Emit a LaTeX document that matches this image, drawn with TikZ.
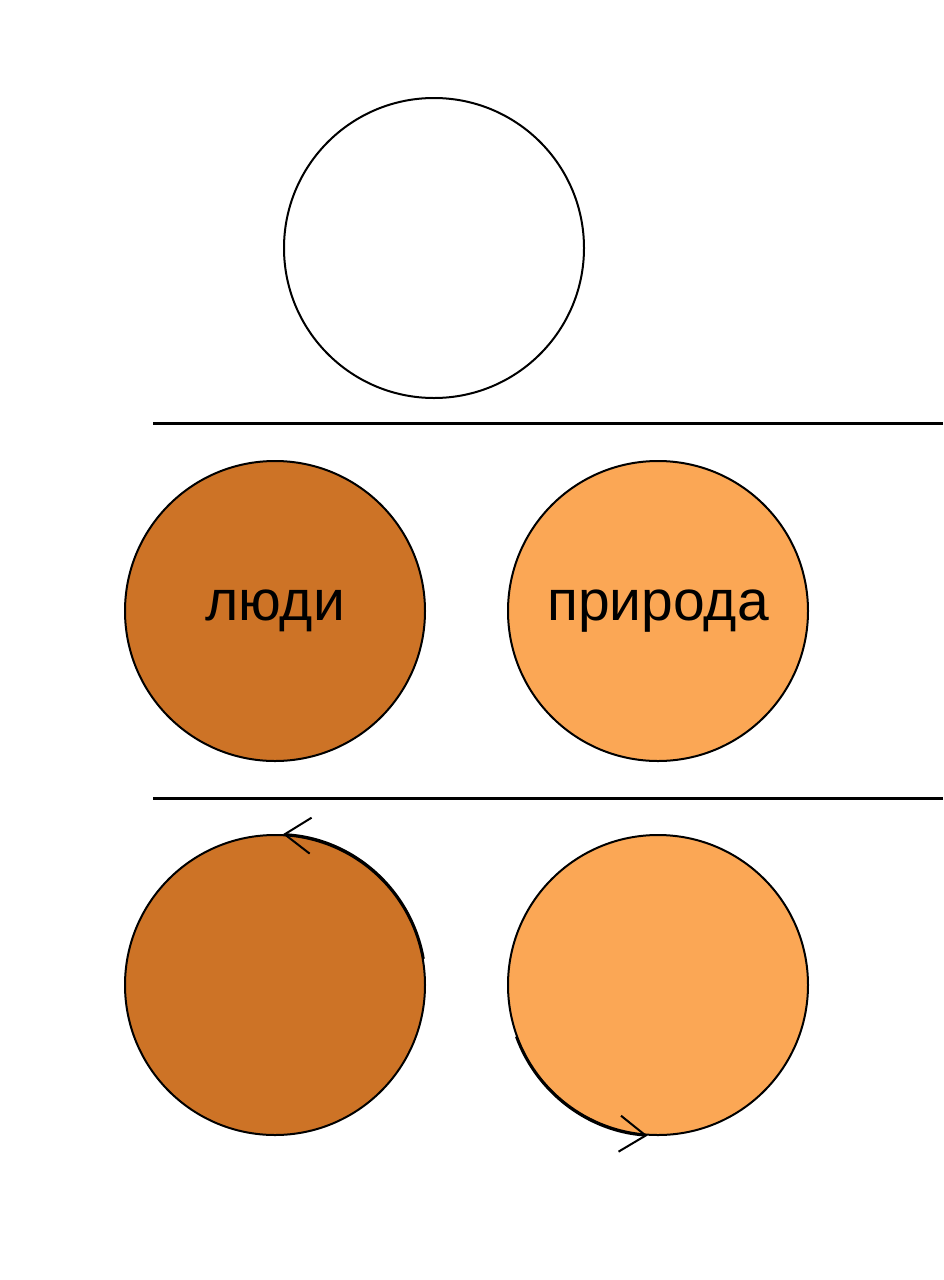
\documentclass[tikz,border=0pt]{standalone}
\usepackage{fontspec}
\setmainfont{Liberation Sans}
\usetikzlibrary{arrows.meta,calc}
\definecolor{darkor}{RGB}{205,115,38}
\definecolor{lightor}{RGB}{251,167,85}
\tikzset{
  disc/.style={circle, draw=black, line width=2pt, minimum size=300pt, inner sep=0pt,
    font=\fontsize{57}{60}\selectfont},
  sep/.style={line width=3pt},
  turn/.style={line width=2.2pt, -{Straight Barb[length=26pt, width=36pt, line width=2pt]}},
}
\begin{document}
\begin{tikzpicture}[x=1pt,y=1pt]
\useasboundingbox (0,0) rectangle (943,-1280);
\fill[white] (0,0) rectangle (943,-1280);
\node[disc, fill=white] (top) at (434,-248) {};
\coordinate (l1a) at (153,-423);
\coordinate (l1b) at (943,-423);
\draw[sep] (l1a) -- (l1b);
\node[disc, fill=darkor] (people) at (275,-611) {люди};
\node[disc, fill=lightor] (nature) at (658,-611) {природа};
\coordinate (l2a) at (153,-798);
\coordinate (l2b) at (943,-798);
\draw[sep] (l2a) -- (l2b);
\node[disc, fill=darkor] (bl) at (275,-985) {};
\node[disc, fill=lightor] (br) at (658,-985) {};
\draw[turn] ($(bl.center)+(10:151)$) arc[start angle=10, end angle=87, radius=151];
\draw[turn] ($(br.center)+(200:151)$) arc[start angle=200, end angle=266, radius=151];
\end{tikzpicture}
\end{document}
